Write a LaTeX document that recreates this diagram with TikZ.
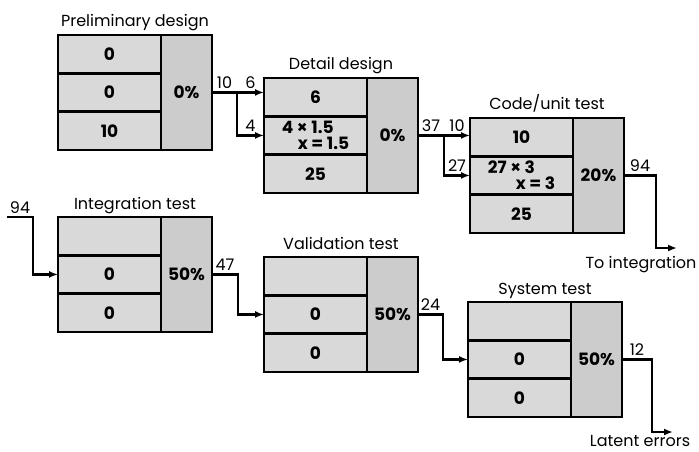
\documentclass[tikz,border=0pt]{standalone}
\usepackage{fontspec}
\setmainfont{Poppins}
\usetikzlibrary{positioning, arrows.meta}
\tikzset{
    cell/.style={draw, line width=2.8pt, fill=gray!30, minimum width=103pt,
        minimum height=38.3pt, inner sep=0pt, outer sep=0pt,
        font=\bfseries\fontsize{17}{17}\selectfont},
    pctcell/.style={cell, fill=gray!40, minimum width=51pt, minimum height=114.9pt},
    title/.style={font=\fontsize{16}{16}\selectfont, inner sep=0pt},
    count/.style={font=\fontsize{16}{16}\selectfont, inner sep=2.5pt},
    wire/.style={line width=2.4pt},
    flow/.style={wire, -{Latex[length=9pt, width=7pt]}},
}

\begin{document}
\begin{tikzpicture}[x=1pt, y=-1pt]
    \useasboundingbox (0,0) rectangle (699,452);
        % Draw preliminary design
        \node[cell, anchor=north west] (prelim1) at (58,35) {0};
        \node[cell, below=0pt of prelim1] (prelim2) {0};
        \node[cell, below=0pt of prelim2] (prelim3) {10};
        \node[pctcell, anchor=north west] (prelimpct) at (prelim1.north east) {0\%};
        \node[title, anchor=base] (prelimtitle) at ([xshift=-26pt, yshift=8pt]prelim1.north east) {Preliminary design};
        % Draw detail design
        \node[cell, anchor=north west] (detail1) at (264,78) {6};
        \node[cell, below=0pt of detail1, align=left] (detail2) {4 × 1.5\\[-1pt]\hspace*{16pt}x = 1.5};
        \node[cell, below=0pt of detail2] (detail3) {25};
        \node[pctcell, anchor=north west] (detailpct) at (detail1.north east) {0\%};
        \node[title, anchor=base] (detailtitle) at ([xshift=-26pt, yshift=8pt]detail1.north east) {Detail design};
        % Draw code/unit test
        \node[cell, anchor=north west] (code1) at (470,118) {10};
        \node[cell, below=0pt of code1, align=left] (code2) {27 × 3\\[-1pt]\hspace*{28pt}x = 3};
        \node[cell, below=0pt of code2] (code3) {25};
        \node[pctcell, anchor=north west] (codepct) at (code1.north east) {20\%};
        \node[title, anchor=base] (codetitle) at ([xshift=-26pt, yshift=8pt]code1.north east) {Code/unit test};
        % Draw integration test
        \node[cell, anchor=north west] (integ1) at (58,217) {};
        \node[cell, below=0pt of integ1] (integ2) {0};
        \node[cell, below=0pt of integ2] (integ3) {0};
        \node[pctcell, anchor=north west] (integpct) at (integ1.north east) {50\%};
        \node[title, anchor=base] (integtitle) at ([xshift=-26pt, yshift=8pt]integ1.north east) {Integration test};
        % Draw validation test
        \node[cell, anchor=north west] (valid1) at (264,257) {};
        \node[cell, below=0pt of valid1] (valid2) {0};
        \node[cell, below=0pt of valid2] (valid3) {0};
        \node[pctcell, anchor=north west] (validpct) at (valid1.north east) {50\%};
        \node[title, anchor=base] (validtitle) at ([xshift=-26pt, yshift=8pt]valid1.north east) {Validation test};
        % Draw system test
        \node[cell, anchor=north west] (system1) at (468,302) {};
        \node[cell, below=0pt of system1] (system2) {0};
        \node[cell, below=0pt of system2] (system3) {0};
        \node[pctcell, anchor=north west] (systempct) at (system1.north east) {50\%};
        \node[title, anchor=base] (systemtitle) at ([xshift=-26pt, yshift=8pt]system1.north east) {System test};
        % Free ends of the flows
        \coordinate (integin) at (7,217);
        \coordinate (codeout) at (677,248);
        \coordinate (latentout) at (673,432);
        \node[title, anchor=base] (tointeg) at (641,268) {To integration};
        \node[title, anchor=base] (latent) at (640,446) {Latent errors};
        % Draw error flows
        \draw[flow] (prelimpct.east) -- node[count, above] {10} ++(25,0) coordinate (split1)
            -- node[count, above] {6} (split1 -| detail1.west);
        \draw[flow] (split1) |- node[count, above, pos=0.75] {4} (detail2.west);
        \draw[flow] (detailpct.east) -- node[count, above] {37} ++(26,0) coordinate (split2)
            -- node[count, above] {10} (split2 -| code1.west);
        \draw[flow] (split2) |- node[count, above, pos=0.75] {27} (code2.west);
        \draw[flow] (codepct.east) -- node[count, above] {94} ++(32,0) |- (codeout);
        \draw[flow] (integin) -- node[count, above] {94} ++(26,0) |- (integ2.west);
        \draw[flow] (integpct.east) -- node[count, above] {47} ++(26,0) |- (valid2.west);
        \draw[flow] (validpct.east) -- node[count, above] {24} ++(25,0) |- (system2.west);
        \draw[flow] (systempct.east) -- node[count, above] {12} ++(30,0) |- (latentout);
\end{tikzpicture}
\end{document}
